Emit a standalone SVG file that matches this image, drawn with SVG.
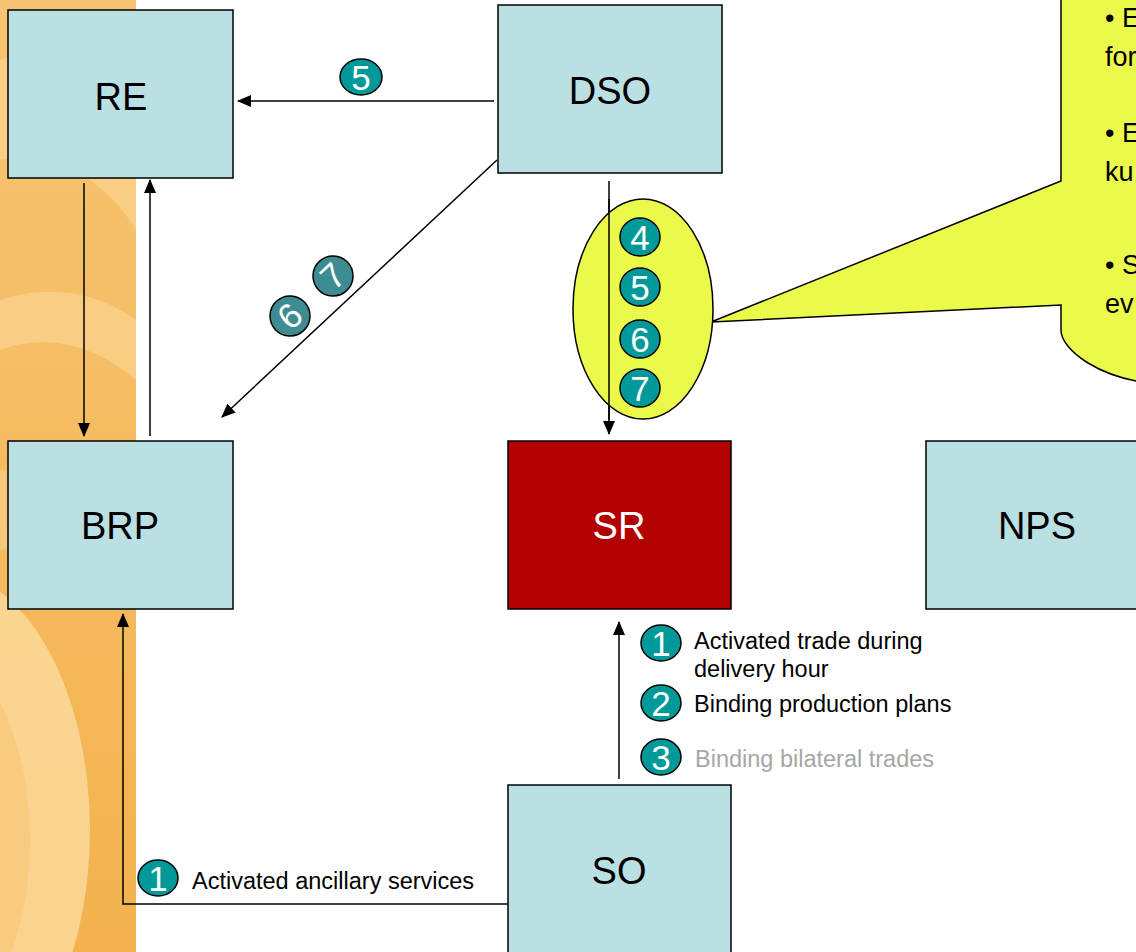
<svg xmlns="http://www.w3.org/2000/svg" width="1136" height="952" viewBox="0 0 1136 952">
  <defs>
    <style>
      .box { fill: #BBE0E3; stroke: #000; stroke-width: 1.5; }
      .lbl { font-family: "Liberation Sans", Arial, sans-serif; font-size: 38px; fill: #000; text-anchor: middle; }
      .wire { fill: none; stroke: #000; stroke-width: 1.5; }
      .num { fill: #009999; stroke: #000; stroke-width: 1.5; }
      .num2 { fill: #3D8C92; stroke: #000; stroke-width: 1.5; }
      .numt { font-family: "Liberation Sans", Arial, sans-serif; font-size: 35px; fill: #fff; text-anchor: middle; }
      .small { font-family: "Liberation Sans", Arial, sans-serif; font-size: 23.5px; fill: #000; }
      .call { font-family: "Liberation Sans", Arial, sans-serif; font-size: 27px; fill: #000; }
    </style>
    <marker id="arrow" viewBox="0 0 14 12" refX="13" refY="6" markerWidth="14" markerHeight="12" markerUnits="userSpaceOnUse" orient="auto">
      <path d="M0,0 L14,6 L0,12 Z" fill="#000"/>
    </marker>
    <linearGradient id="bg" x1="0" y1="0" x2="0" y2="1">
      <stop offset="0" stop-color="#F7C473"/>
      <stop offset="1" stop-color="#F3B24E"/>
    </linearGradient>
    <clipPath id="strip"><rect x="0" y="0" width="136" height="952"/></clipPath>
  </defs>

  <rect width="1136" height="952" fill="#fff"/>

  <!-- decorative side strip -->
  <g clip-path="url(#strip)">
    <rect x="0" y="0" width="136" height="952" fill="url(#bg)"/>
    <path d="M0,60 C60,40 120,70 136,90 L136,230 C100,170 40,150 0,160 Z" fill="#FAD48E" opacity="0.7"/>
    <path d="M0,300 C60,280 110,300 136,320 L136,380 C90,340 40,335 0,350 Z" fill="#FAD998" opacity="0.6"/>
    <path d="M0,470 C50,470 110,490 136,520 L136,600 C90,560 40,545 0,550 Z" fill="#F9D594" opacity="0.5"/>
    <ellipse cx="-60" cy="830" rx="150" ry="260" fill="#FAD99A" opacity="0.85"/>
    <ellipse cx="-80" cy="840" rx="110" ry="200" fill="#F6C26E" opacity="0.5"/>
  </g>

  <!-- connectors -->
  <g id="connectors">
    <line class="wire" x1="494" y1="101" x2="238" y2="101" marker-end="url(#arrow)"/>
    <line class="wire" x1="497" y1="160" x2="222" y2="417" marker-end="url(#arrow)"/>
    <line class="wire" x1="609" y1="181" x2="609" y2="434" marker-end="url(#arrow)"/>
    <line class="wire" x1="84" y1="183" x2="84" y2="436" marker-end="url(#arrow)"/>
    <line class="wire" x1="150" y1="436" x2="150" y2="180" marker-end="url(#arrow)"/>
    <line class="wire" x1="619" y1="779" x2="619" y2="622" marker-end="url(#arrow)"/>
    <polyline class="wire" points="508,904 123,904 123,614" marker-end="url(#arrow)"/>
  </g>

  <!-- callout bubble -->
  <g id="callout">
    <path d="M1061,-10 L1160,-10 L1160,384 C1100,380 1061,350 1061,330 L1061,305 L711,322 L1061,181 Z" fill="#EBF94A" stroke="#000" stroke-width="1.5" stroke-linejoin="miter"/>
    <text class="call" x="1105" y="27">• E</text>
    <text class="call" x="1105" y="66">for</text>
    <text class="call" x="1105" y="142">• E</text>
    <text class="call" x="1105" y="181">ku</text>
    <text class="call" x="1105" y="274">• S</text>
    <text class="call" x="1105" y="313">ev</text>
  </g>

  <!-- steps grouped on the DSO–SR link -->
  <g id="steps-dso-sr">
    <ellipse cx="643" cy="309" rx="70" ry="110" fill="#EBF94A" stroke="#000" stroke-width="1.5"/>
    <line class="wire" x1="609" y1="199" x2="609" y2="420"/>
    <ellipse class="num" cx="640" cy="237" rx="20" ry="19"/>
    <text class="numt" x="640" y="250">4</text>
    <ellipse class="num" cx="640" cy="287" rx="20" ry="19"/>
    <text class="numt" x="640" y="300">5</text>
    <ellipse class="num" cx="640" cy="339" rx="20" ry="19"/>
    <text class="numt" x="640" y="352">6</text>
    <ellipse class="num" cx="640" cy="388" rx="20" ry="19"/>
    <text class="numt" x="640" y="401">7</text>
  </g>

  <!-- step 5 on DSO–RE -->
  <g id="step-dso-re">
    <ellipse class="num" cx="361" cy="77" rx="21" ry="18"/>
    <text class="numt" x="361" y="90">5</text>
  </g>

  <!-- steps 6 and 7 on DSO–BRP, following the link slope -->
  <g id="steps-dso-brp">
    <g transform="translate(290,316) rotate(-43)">
      <circle class="num2" r="20"/>
      <text class="numt" y="12">6</text>
    </g>
    <g transform="translate(333,276) rotate(-43)">
      <circle class="num2" r="20"/>
      <text class="numt" y="12">7</text>
    </g>
  </g>

  <!-- legend on SO–SR link -->
  <g id="legend-so-sr">
    <ellipse class="num" cx="661" cy="643" rx="20" ry="18"/>
    <text class="numt" x="661" y="656">1</text>
    <text class="small" x="694" y="649">Activated trade during</text>
    <text class="small" x="694" y="677">delivery hour</text>
    <ellipse class="num" cx="661" cy="703" rx="20" ry="18"/>
    <text class="numt" x="661" y="716">2</text>
    <text class="small" x="694" y="712">Binding production plans</text>
    <ellipse class="num" cx="661" cy="757" rx="20" ry="18"/>
    <text class="numt" x="661" y="770">3</text>
    <text class="small" x="695" y="767" style="fill:#A6A6A6">Binding bilateral trades</text>
  </g>

  <!-- legend on SO–BRP link -->
  <g id="legend-so-brp">
    <ellipse class="num" cx="158" cy="878" rx="20" ry="18"/>
    <text class="numt" x="158" y="891">1</text>
    <text class="small" x="192" y="889">Activated ancillary services</text>
  </g>

  <!-- nodes -->
  <g id="RE">
    <rect class="box" x="8" y="10" width="225" height="168"/>
    <text class="lbl" x="121" y="110">RE</text>
  </g>
  <g id="DSO">
    <rect class="box" x="498" y="5" width="224" height="168"/>
    <text class="lbl" x="610" y="104">DSO</text>
  </g>
  <g id="BRP">
    <rect class="box" x="8" y="441" width="225" height="168"/>
    <text class="lbl" x="120" y="539">BRP</text>
  </g>
  <g id="SR">
    <rect class="box" x="508" y="441" width="223" height="168" style="fill:#B30000"/>
    <text class="lbl" x="619" y="539" style="fill:#fff">SR</text>
  </g>
  <g id="NPS">
    <rect class="box" x="926" y="441" width="220" height="168"/>
    <text class="lbl" x="1037" y="539">NPS</text>
  </g>
  <g id="SO">
    <rect class="box" x="508" y="785" width="223" height="180"/>
    <text class="lbl" x="619" y="884">SO</text>
  </g>
</svg>
